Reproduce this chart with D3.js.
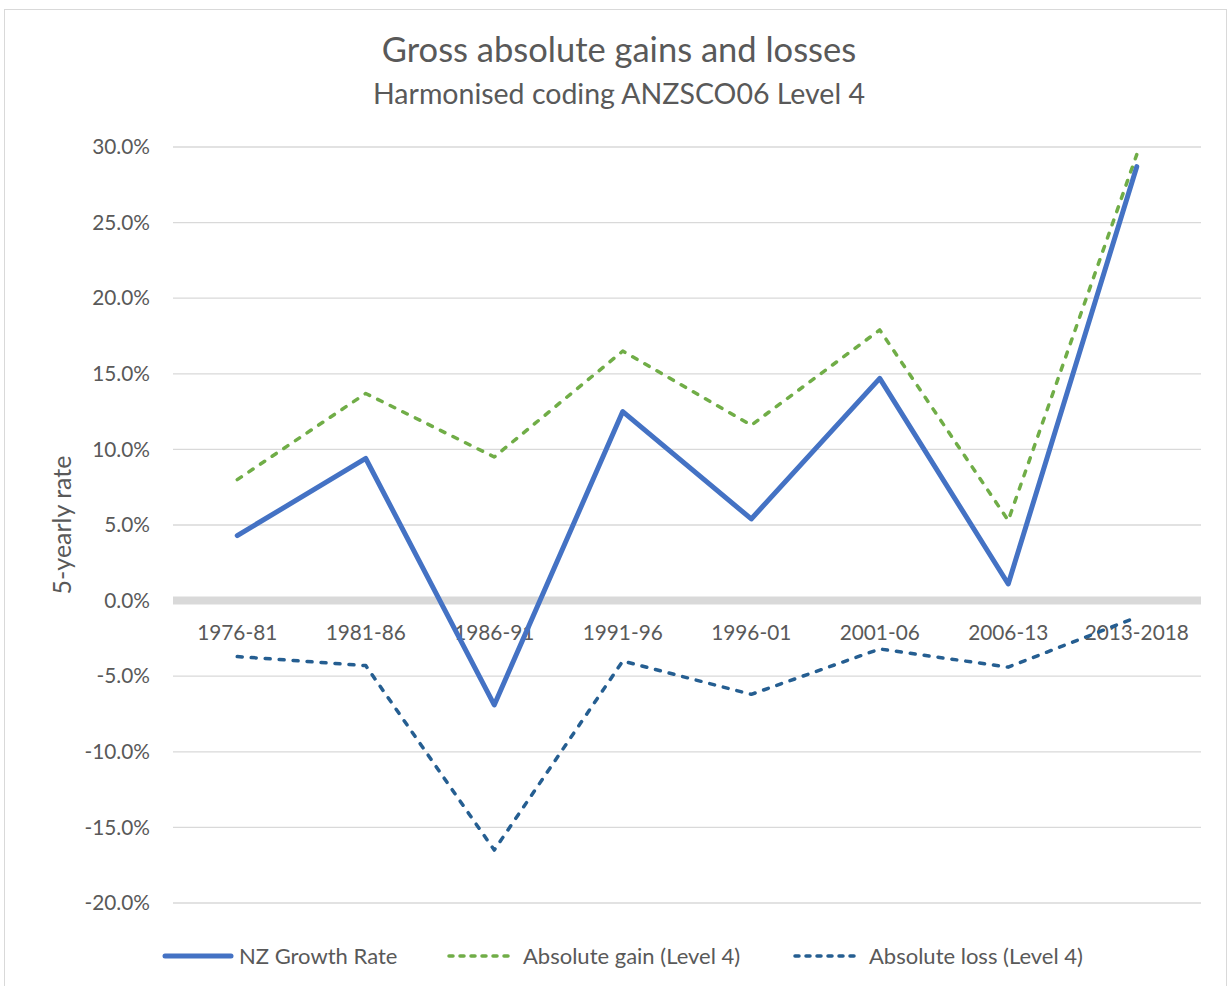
<!DOCTYPE html>
<html>
<head>
<meta charset="utf-8">
<script src="https://cdn.jsdelivr.net/npm/d3@7"></script>
<style>
  body { margin: 0; background: #fff; }
  text { font-family: Lato, "Open Sans", sans-serif; fill: #595959; }
</style>
</head>
<body>
<script>
  const periods = ["1976-81", "1981-86", "1986-91", "1991-96", "1996-01", "2001-06", "2006-13", "2013-2018"];
  const nzGrowth = [4.3, 9.4, -6.9, 12.5, 5.4, 14.7, 1.1, 28.7];
  const absGain = [8.0, 13.7, 9.5, 16.5, 11.6, 17.9, 5.3, 29.5];
  const absLoss = [-3.7, -4.3, -16.5, -4.0, -6.2, -3.2, -4.4, -1.1];
  const yTicks = [30, 25, 20, 15, 10, 5, 0, -5, -10, -15, -20];

  const series = [
    { name: "NZ Growth Rate", values: nzGrowth, color: "#4472C4", width: 5, dash: null },
    { name: "Absolute gain (Level 4)", values: absGain, color: "#70AD47", width: 3.5, dash: "5,9" },
    { name: "Absolute loss (Level 4)", values: absLoss, color: "#255E91", width: 3.5, dash: "5,9" }
  ];

  const width = 1228, height = 986;
  const plot = { left: 173, right: 1201, top: 147, bottom: 903 };

  const svg = d3.select("body").append("svg")
    .attr("width", width)
    .attr("height", height);

  // chart border
  svg.append("rect")
    .attr("x", 4.5).attr("y", 9.5)
    .attr("width", 1222).attr("height", 990)
    .attr("fill", "#fff")
    .attr("stroke", "#d9d9d9");

  const x = d3.scaleBand().domain(periods).range([plot.left, plot.right]);
  const y = d3.scaleLinear().domain([-20, 30]).range([plot.bottom, plot.top]);

  // gridlines
  svg.append("g")
    .selectAll("line")
    .data(yTicks.filter(d => d !== 0))
    .join("line")
    .attr("x1", plot.left).attr("x2", plot.right)
    .attr("y1", d => y(d)).attr("y2", d => y(d))
    .attr("stroke", "#d9d9d9")
    .attr("stroke-width", 1.3);

  // thick zero axis
  svg.append("line")
    .attr("x1", plot.left).attr("x2", plot.right)
    .attr("y1", y(0)).attr("y2", y(0))
    .attr("stroke", "#d9d9d9")
    .attr("stroke-width", 8);

  // y tick labels (plain hyphen for negatives, like the original)
  svg.append("g")
    .selectAll("text")
    .data(yTicks)
    .join("text")
    .attr("x", 150)
    .attr("y", d => y(d))
    .attr("dy", "0.35em")
    .attr("text-anchor", "end")
    .style("font-size", "20.8px")
    .text(d => d.toFixed(1) + "%");

  // x category labels (placed just below the zero line)
  svg.append("g")
    .selectAll("text")
    .data(periods)
    .join("text")
    .attr("x", d => x(d) + x.bandwidth() / 2)
    .attr("y", y(0) + 39)
    .attr("text-anchor", "middle")
    .style("font-size", "20.8px")
    .text(d => d);

  // lines
  const line = d3.line()
    .x((d, i) => x(periods[i]) + x.bandwidth() / 2)
    .y(d => y(d));

  svg.append("g")
    .selectAll("path")
    .data(series.slice().reverse())
    .join("path")
    .attr("d", d => line(d.values))
    .attr("fill", "none")
    .attr("stroke", d => d.color)
    .attr("stroke-width", d => d.width)
    .attr("stroke-dasharray", d => d.dash)
    .attr("stroke-linejoin", "round")
    .attr("stroke-linecap", "round");

  // titles
  svg.append("text")
    .attr("x", 619).attr("y", 62)
    .attr("text-anchor", "middle")
    .style("font-size", "34.5px")
    .text("Gross absolute gains and losses");

  svg.append("text")
    .attr("x", 619).attr("y", 104)
    .attr("text-anchor", "middle")
    .style("font-size", "28.5px")
    .text("Harmonised coding ANZSCO06 Level 4");

  // y axis title
  svg.append("text")
    .attr("transform", `translate(71,${525}) rotate(-90)`)
    .attr("text-anchor", "middle")
    .style("font-size", "25px")
    .text("5-yearly rate");

  // legend
  const legendX = [163, 447, 793];
  const legend = svg.append("g")
    .selectAll("g")
    .data(series)
    .join("g")
    .attr("transform", (d, i) => `translate(${legendX[i]},956)`);

  legend.append("line")
    .attr("x1", 2).attr("x2", 68)
    .attr("stroke", d => d.color)
    .attr("stroke-width", d => d.width)
    .attr("stroke-dasharray", d => d.dash ? "4,7" : null)
    .attr("stroke-linecap", "round");

  legend.append("text")
    .attr("x", 76)
    .attr("dy", "0.35em")
    .style("font-size", "22px")
    .text(d => d.name);
</script>
</body>
</html>
